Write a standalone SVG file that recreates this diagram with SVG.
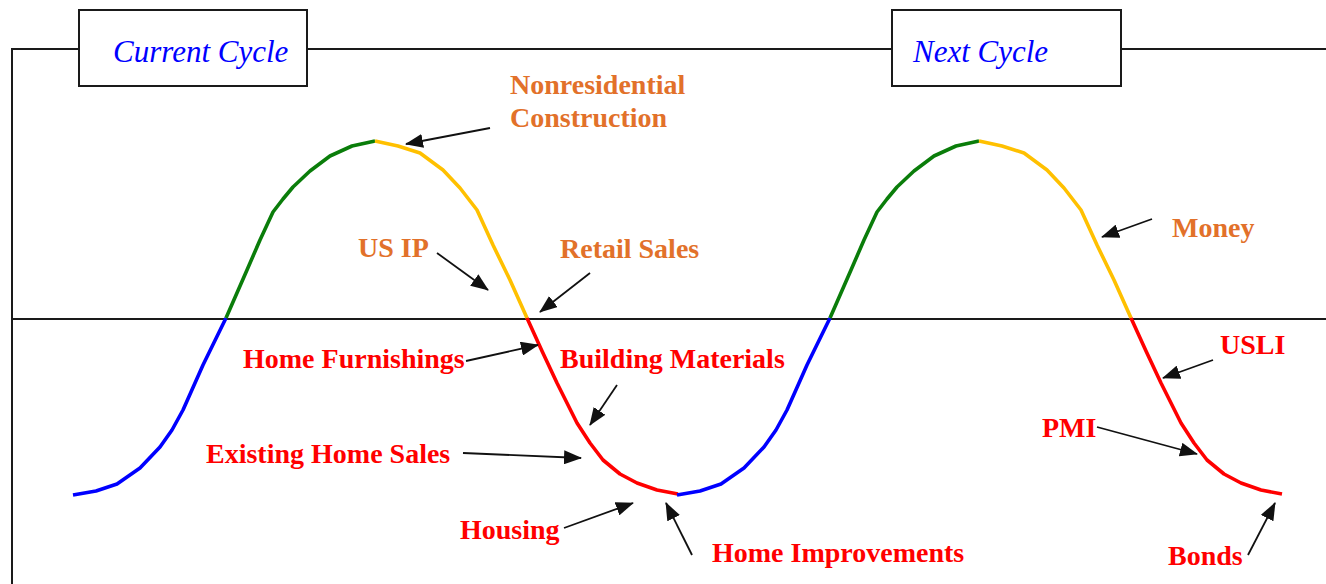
<svg xmlns="http://www.w3.org/2000/svg" width="1326" height="584" viewBox="0 0 1326 584">
  <style>
    .frame { fill: none; stroke: #1a1a1a; stroke-width: 2; }
    .box { fill: #ffffff; stroke: #1a1a1a; stroke-width: 2; }
    .title { font-family: "Liberation Serif", "Times New Roman", serif; font-style: italic; font-size: 31px; fill: #0000ff; }
    .lbl { font-family: "Liberation Serif", "Times New Roman", serif; font-weight: bold; font-size: 28px; }
    .orange { fill: #e2712a; }
    .red { fill: #ff0000; }
    .seg { fill: none; stroke-width: 3.6; stroke-linejoin: round; stroke-linecap: butt; }
    .blue { stroke: #0000ff; }
    .green { stroke: #0a7d0a; }
    .yellow { stroke: #ffc000; }
    .redline { stroke: #ff0000; }
    .arrow { fill: none; stroke: #111111; stroke-width: 1.8; marker-end: url(#head); }
  </style>
  <defs>
    <marker id="head" markerUnits="userSpaceOnUse" markerWidth="18" markerHeight="14" refX="17" refY="7" orient="auto">
      <path d="M0,0 L18,7 L0,14 z" fill="#111111"/>
    </marker>
    <!-- one full cycle of the curve: rise, peak, fall, trough -->
    <g id="cycle">
      <polyline class="seg blue" points="73,495 96,491 117,484 140,468 160,447 172,430 183,410 203,365 226,318"/>
      <polyline class="seg green" points="226,318 247,270 260,240 273,212 283,199 293,187 310,171 330,156 352,146 375,141"/>
      <polyline class="seg yellow" points="375,141 398,146 420,153 443,170 460,188 477,210 493,245 510,280 527,318"/>
      <polyline class="seg redline" points="527,318 542,351 557,383 577,423 590,443 603,460 620,474 637,483 657,490 678,494"/>
    </g>
  </defs>

  <!-- outer frame and zero axis -->
  <g id="frame">
    <polyline class="frame" points="12,584 12,49 1326,49"/>
    <line class="frame" x1="12" y1="319" x2="1326" y2="319"/>
  </g>

  <!-- cycle headers -->
  <g id="current-cycle">
    <rect class="box" x="79" y="10" width="228" height="76"/>
    <text class="title" x="113" y="62">Current Cycle</text>
  </g>
  <g id="next-cycle">
    <rect class="box" x="892" y="10" width="229" height="76"/>
    <text class="title" x="913" y="62">Next Cycle</text>
  </g>

  <!-- business cycle curve -->
  <g id="curve">
    <use href="#cycle"/>
    <use href="#cycle" transform="translate(604,0)"/>
  </g>

  <!-- indicator labels -->
  <g id="nonresidential-construction">
    <text class="lbl orange" x="510" y="94">Nonresidential</text>
    <text class="lbl orange" x="510" y="127">Construction</text>
  </g>
  <g id="us-ip"><text class="lbl orange" x="358" y="257">US IP</text></g>
  <g id="retail-sales"><text class="lbl orange" x="560" y="258">Retail Sales</text></g>
  <g id="home-furnishings"><text class="lbl red" x="243" y="368">Home Furnishings</text></g>
  <g id="building-materials"><text class="lbl red" x="560" y="368">Building Materials</text></g>
  <g id="existing-home-sales"><text class="lbl red" x="206" y="463">Existing Home Sales</text></g>
  <g id="housing"><text class="lbl red" x="460" y="539">Housing</text></g>
  <g id="home-improvements"><text class="lbl red" x="712" y="562">Home Improvements</text></g>
  <g id="money"><text class="lbl orange" x="1172" y="237">Money</text></g>
  <g id="usli"><text class="lbl red" x="1220" y="354">USLI</text></g>
  <g id="pmi"><text class="lbl red" x="1042" y="437">PMI</text></g>
  <g id="bonds"><text class="lbl red" x="1168" y="565">Bonds</text></g>

  <!-- pointers from labels to the curve -->
  <g id="connectors">
    <line class="arrow" x1="490" y1="128" x2="406" y2="144"/>
    <line class="arrow" x1="437" y1="253" x2="488" y2="290"/>
    <line class="arrow" x1="590" y1="273" x2="540" y2="312"/>
    <line class="arrow" x1="466" y1="361" x2="538" y2="345"/>
    <line class="arrow" x1="617" y1="385" x2="590" y2="425"/>
    <line class="arrow" x1="463" y1="453" x2="581" y2="458"/>
    <line class="arrow" x1="564" y1="528" x2="633" y2="503"/>
    <line class="arrow" x1="692" y1="555" x2="666" y2="503"/>
    <line class="arrow" x1="1152" y1="219" x2="1102" y2="237"/>
    <line class="arrow" x1="1213" y1="360" x2="1163" y2="378"/>
    <line class="arrow" x1="1097" y1="427" x2="1197" y2="454"/>
    <line class="arrow" x1="1248" y1="555" x2="1275" y2="503"/>
  </g>
</svg>
